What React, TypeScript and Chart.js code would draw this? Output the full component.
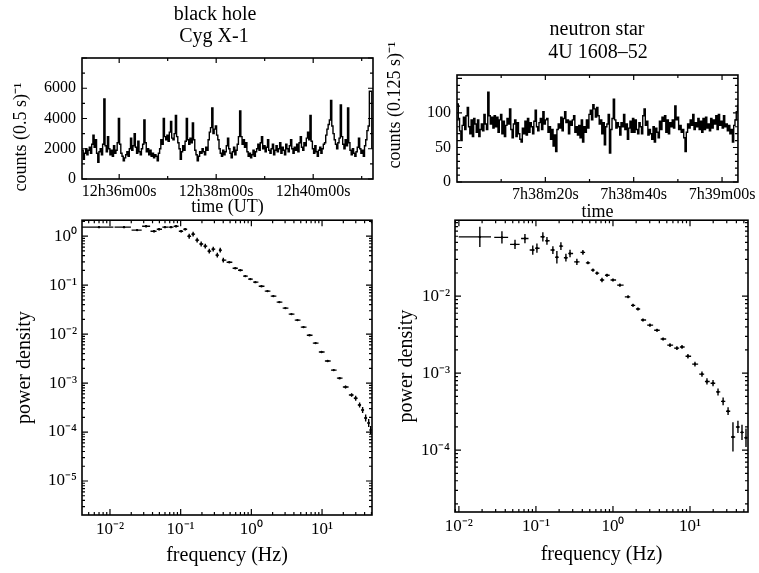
import React, { useEffect, useRef } from 'react';
import { Chart, registerables } from 'chart.js';

Chart.register(...registerables);

const SERIF = '"Liberation Serif", "Times New Roman", Times, serif';

// ---------------- Cyg X-1 light curve (counts per 0.5 s) ----------------
const cygStart = 2114; // seconds after 12h00m00s UT
const cygStep = 1.5;
const cygCounts = [
  1900, 1300, 1700, 2000, 1600, 1900, 2100, 1700, 2300, 2900,
  2100, 2600, 1700, 1100, 1800, 2000, 1600, 2300, 5300, 2200,
  1800, 2800, 2000, 1600, 1900, 1500, 2200, 1700, 1900, 2400,
  4000, 2300, 1700, 1500, 1200, 1400, 1600, 1800, 1500, 2000,
  2700, 1900, 2200, 3000, 2100, 1700, 2500, 1800, 1600, 2000,
  2300, 3900, 2400, 1800, 2000, 1600, 1900, 1500, 1700, 1400,
  1600, 1500, 1200, 1700, 2000, 2600, 2300, 4000, 2800, 2600,
  2900, 2500, 3100, 3800, 2700, 2600, 3000, 4200, 2800, 2400,
  2000, 1300, 1800, 2200, 1900, 2500, 4000, 2600, 2300, 2700,
  2400, 3700, 2600, 1900, 1600, 1200, 1500, 1800, 1700, 2000,
  1800, 1600, 2100, 1900, 2600, 3100, 3400, 4700, 3000, 3300,
  3500, 2900, 2600, 2000, 1700, 1500, 1900, 1600, 1800, 2200,
  2700, 2000, 1700, 1400, 1800, 2100, 1600, 1900, 2300, 2800,
  4500, 2800, 2300, 2600, 2100, 2400, 1800, 1500, 1700, 1400,
  1600, 1900, 1500, 1800, 2000, 2300, 1900, 2400, 2800, 2000,
  2200, 1800, 2100, 2600, 1900, 1700, 2000, 2300, 1600, 1900,
  2200, 1800, 2000, 2400, 1700, 2100, 1900, 1600, 2300, 2000,
  1800, 2200, 2600, 2000, 1700, 2100, 1900, 2300, 1800, 2400,
  2800, 2100, 1900, 2400, 2200, 2700, 3100, 2600, 4200, 2500,
  2000, 1700, 2200, 1800, 1500, 1900, 2100, 1700, 2000, 2300,
  2400, 2900, 3300, 3600, 3900, 5200, 3500, 3000, 2600, 2300,
  2000, 2400, 2700, 4900, 2800, 2300, 2000, 2600, 2200, 4700,
  2400, 1900, 1600, 2000, 1700, 1500, 1800, 2100, 2700, 2000,
  1700, 1900, 1500, 2200, 2600, 3200, 3500, 5800, 5800, 2000,
];
const cygTimeTicks = [2160, 2280, 2400];
const cygCountTicks = [0, 2000, 4000, 6000];

// ---------------- 4U 1608-52 light curve (counts per 0.125 s) ----------------
const nsStart = 2280; // seconds after 7h00m00s
const nsStep = 0.29;
const nsCounts = [
  113, 92, 74, 60, 82, 94, 76, 96, 108, 80,
  70, 90, 66, 92, 84, 72, 90, 66, 76, 84,
  74, 98, 84, 76, 130, 96, 84, 94, 78, 96,
  80, 94, 72, 90, 98, 70, 88, 66, 82, 92,
  84, 106, 76, 64, 84, 90, 66, 86, 70, 62,
  58, 78, 70, 88, 68, 92, 72, 86, 80, 70,
  88, 104, 80, 74, 86, 92, 76, 102, 84, 90,
  92, 72, 80, 62, 76, 52, 68, 44, 76, 84,
  78, 94, 74, 92, 102, 86, 90, 70, 88, 82,
  90, 96, 72, 80, 68, 82, 64, 90, 58, 80,
  72, 90, 78, 98, 104, 90, 112, 106, 94, 108,
  96, 84, 90, 70, 86, 54, 80, 84, 98, 42,
  76, 92, 120, 90, 78, 86, 80, 68, 86, 80,
  98, 76, 84, 62, 78, 88, 72, 92, 72, 90,
  76, 70, 86, 80, 70, 96, 106, 82, 88, 68,
  76, 70, 62, 80, 58, 78, 72, 64, 88, 76,
  94, 88, 96, 72, 90, 70, 86, 80, 90, 78,
  110, 90, 94, 76, 82, 72, 76, 64, 44, 72,
  84, 78, 90, 82, 98, 76, 86, 80, 92, 76,
  88, 72, 92, 76, 94, 78, 84, 74, 92, 78,
  90, 84, 96, 76, 98, 82, 88, 78, 96, 80,
  84, 74, 82, 70, 76, 58, 82, 90, 102, 112,
];
const nsTimeTicks = [2300, 2320, 2340];
const nsCountTicks = [0, 50, 100];

// ---------------- Power spectra ----------------
const bhFreq = [
  0.007, 0.0158, 0.0242, 0.0324, 0.042, 0.0495, 0.06, 0.073, 0.086, 0.1016,
  0.116, 0.132, 0.15, 0.171, 0.195, 0.223, 0.254, 0.289, 0.33, 0.363,
  0.401, 0.488, 0.593, 0.698, 0.822, 0.968, 1.14, 1.39, 1.69, 2.05,
  2.49, 3.03, 3.69, 4.49, 5.47, 6.65, 8.09, 9.84, 12.0, 14.6,
  17.7, 21.5, 26.2, 29.9, 34.0, 37.5, 41.4, 45.7, 48.7,
];
const bhPower = [
  1.53, 1.53, 1.33, 1.6, 1.26, 1.39, 1.53, 1.53, 1.6, 1.26,
  1.39, 1.0, 1.1, 0.83, 0.69, 0.625, 0.494, 0.543, 0.41, 0.518,
  0.324, 0.294, 0.222, 0.202, 0.153, 0.133, 0.115, 0.095, 0.0755, 0.0597,
  0.045, 0.034, 0.0256, 0.0193, 0.0139, 0.0095, 0.00655, 0.0043, 0.00282, 0.00184,
  0.00126, 0.00083, 0.00057, 0.00049, 0.000356, 0.000282, 0.000193, 0.000153, 0.00011,
];
const bhErr = [
  0.02, 0.02, 0.02, 0.02, 0.02, 0.02, 0.02, 0.02, 0.02, 0.02,
  0.02, 0.05, 0.05, 0.05, 0.05, 0.05, 0.05, 0.05, 0.05, 0.05,
  0.05, 0.015, 0.015, 0.015, 0.015, 0.015, 0.015, 0.015, 0.015, 0.015,
  0.015, 0.015, 0.015, 0.015, 0.015, 0.015, 0.015, 0.015, 0.015, 0.015,
  0.025, 0.03, 0.035, 0.05, 0.05, 0.06, 0.07, 0.08, 0.08,
];

const nsFreq = [
  0.0187, 0.0362, 0.0535, 0.072, 0.091, 0.103, 0.123, 0.139, 0.166, 0.187,
  0.211, 0.245, 0.277, 0.34, 0.407, 0.473, 0.55, 0.62, 0.72, 0.836,
  1.0, 1.23, 1.57, 1.82, 2.11, 2.45, 3.02, 3.73, 4.47, 5.5,
  6.76, 7.87, 9.4, 11.6, 14.3, 16.6, 19.9, 23.1, 26.9, 31.2,
  36.1, 41.9, 47.3, 53.3,
];
const nsPower = [
  0.0589, 0.058, 0.047, 0.056, 0.0397, 0.042, 0.059, 0.0524, 0.0397, 0.032,
  0.0447, 0.0316, 0.0358, 0.0279, 0.037, 0.0271, 0.0218, 0.0199, 0.0162, 0.0187,
  0.0162, 0.0139, 0.0098, 0.0076, 0.0068, 0.0049, 0.0042, 0.0036, 0.00277, 0.00231,
  0.00211, 0.00219, 0.00166, 0.00131, 0.00097, 0.00078, 0.00074, 0.00057, 0.00043, 0.00032,
  0.000148, 0.0002, 0.00017, 0.000145,
];
const nsErr = [
  0.13, 0.08, 0.06, 0.06, 0.06, 0.06, 0.06, 0.05, 0.05, 0.08,
  0.05, 0.05, 0.05, 0.04, 0.03, 0.02, 0.02, 0.02, 0.03, 0.02,
  0.02, 0.02, 0.02, 0.02, 0.02, 0.02, 0.02, 0.02, 0.02, 0.025,
  0.025, 0.025, 0.03, 0.03, 0.035, 0.04, 0.04, 0.045, 0.05, 0.05,
  0.19, 0.08, 0.1, 0.12,
];

const bhDecadesX = [0.01, 0.1, 1, 10];
const bhDecadesY = [1e-5, 1e-4, 1e-3, 1e-2, 1e-1, 1];
const nsDecadesX = [0.01, 0.1, 1, 10];
const nsDecadesY = [1e-4, 1e-3, 1e-2];

// ---------------- helpers ----------------
const SUP: Record<string, string> = {
  '0': '⁰', '1': '¹', '2': '²', '3': '³', '4': '⁴', '5': '⁵', '6': '⁶', '7': '⁷', '8': '⁸', '9': '⁹', '-': '⁻',
};
function logLabel(v: number): string {
  const e = Math.round(Math.log10(v));
  return '10' + String(e).split('').map((c) => SUP[c] || c).join('');
}
function pad2(n: number) {
  return n < 10 ? '0' + n : String(n);
}
function hms(sec: number, baseHour: number): string {
  const s = Math.round(sec);
  const h = baseHour + Math.floor(s / 3600);
  const m = Math.floor((s % 3600) / 60);
  return `${h}h${pad2(m)}m${pad2(s % 60)}s`;
}
function logTickSets(min: number, max: number) {
  const major: number[] = [];
  const minor: number[] = [];
  for (let e = Math.floor(Math.log10(min)); e <= Math.ceil(Math.log10(max)); e++) {
    for (let k = 1; k <= 9; k++) {
      const v = k * Math.pow(10, e);
      if (v < min || v > max) continue;
      (k === 1 ? major : minor).push(v);
    }
  }
  return { major, minor };
}

type FrameSpec = { xMajor: number[]; xMinor: number[]; yMajor: number[]; yMinor: number[]; major: number; minor: number };
function makeFrame(spec: FrameSpec) {
  return {
    id: 'frame',
    afterDraw(chart: any) {
      const { ctx, chartArea: a, scales } = chart;
      ctx.save();
      ctx.strokeStyle = '#000';
      ctx.lineWidth = 1.6;
      ctx.strokeRect(a.left, a.top, a.right - a.left, a.bottom - a.top);
      ctx.lineWidth = 1.2;
      const xs = (vals: number[], len: number) => {
        for (const v of vals) {
          const p = scales.x.getPixelForValue(v);
          if (p < a.left - 0.5 || p > a.right + 0.5) continue;
          ctx.beginPath();
          ctx.moveTo(p, a.bottom);
          ctx.lineTo(p, a.bottom - len);
          ctx.moveTo(p, a.top);
          ctx.lineTo(p, a.top + len);
          ctx.stroke();
        }
      };
      const ys = (vals: number[], len: number) => {
        for (const v of vals) {
          const p = scales.y.getPixelForValue(v);
          if (p < a.top - 0.5 || p > a.bottom + 0.5) continue;
          ctx.beginPath();
          ctx.moveTo(a.left, p);
          ctx.lineTo(a.left + len, p);
          ctx.moveTo(a.right, p);
          ctx.lineTo(a.right - len, p);
          ctx.stroke();
        }
      };
      xs(spec.xMajor, spec.major);
      xs(spec.xMinor, spec.minor);
      ys(spec.yMajor, spec.major);
      ys(spec.yMinor, spec.minor);
      ctx.restore();
    },
  };
}

type TextItem = { text: string; x: number; y: number; size: number; rotate?: number };
function makeText(items: TextItem[]) {
  return {
    id: 'panelText',
    afterDraw(chart: any) {
      const ctx = chart.ctx;
      for (const it of items) {
        ctx.save();
        ctx.font = `${it.size}px ${SERIF}`;
        ctx.fillStyle = '#000';
        ctx.textAlign = 'center';
        ctx.textBaseline = 'middle';
        ctx.translate(it.x, it.y);
        if (it.rotate) ctx.rotate(it.rotate);
        ctx.fillText(it.text, 0, 0);
        ctx.restore();
      }
    },
  };
}

function errorBarSets(freq: number[], power: number[], errDex: number[], shrink: number) {
  const h: any[] = [];
  const v: any[] = [];
  const n = freq.length;
  for (let i = 0; i < n; i++) {
    const f = freq[i];
    const p = power[i];
    const nxt = i < n - 1 ? (f + freq[i + 1]) / 2 : f + (f - (freq[i - 1] + f) / 2);
    const prv = i > 0 ? (freq[i - 1] + f) / 2 : f - (nxt - f);
    const sLo = i === 0 ? 1 : shrink;
    h.push({ x: f - (f - prv) * sLo, y: p }, { x: f + (nxt - f) * shrink, y: p }, { x: f, y: null });
    const k = Math.pow(10, errDex[i]);
    v.push({ x: f, y: p / k }, { x: f, y: p * k }, { x: f, y: null });
  }
  return { h, v };
}

const noGrid = { display: false, drawTicks: false };
const font = (size: number) => ({ family: SERIF, size, lineHeight: 1.2 });

// ---------------- chart configs ----------------
function lightCurveConfig(o: {
  start: number; step: number; counts: number[]; xMin: number; xMax: number; xTicks: number[]; hour: number;
  yMax: number; yTicks: number[]; yWidth: number; xHeight: number; padTop: number; padRight: number;
  xTitle: string; xTitlePad: number; frame: FrameSpec; texts: TextItem[];
}) {
  return {
    type: 'line',
    data: {
      datasets: [
        {
          data: o.counts.map((c, i) => ({ x: o.start + i * o.step, y: c })),
          stepped: true,
          borderColor: '#000',
          borderWidth: 1.4,
          pointRadius: 0,
          fill: false,
        },
      ],
    },
    options: {
      animation: false,
      responsive: false,
      devicePixelRatio: 1,
      layout: { padding: { top: o.padTop, right: o.padRight, left: 0, bottom: 0 } },
      plugins: { legend: { display: false }, tooltip: { enabled: false } },
      scales: {
        x: {
          type: 'linear',
          min: o.xMin,
          max: o.xMax,
          afterFit: (s: any) => { s.height = o.xHeight; },
          afterBuildTicks: (s: any) => { s.ticks = o.xTicks.map((v) => ({ value: v })); },
          ticks: { callback: (v: any) => hms(Number(v), o.hour), font: font(16), color: '#000', padding: 3, autoSkip: false, maxRotation: 0 },
          grid: noGrid,
          border: { display: false },
          title: { display: true, text: o.xTitle, font: font(18), color: '#000', padding: { top: 0, bottom: o.xTitlePad } },
        },
        y: {
          type: 'linear',
          min: 0,
          max: o.yMax,
          afterFit: (s: any) => { s.width = o.yWidth; },
          afterBuildTicks: (s: any) => { s.ticks = o.yTicks.map((v) => ({ value: v })); },
          ticks: { callback: (v: any) => String(v), font: font(16), color: '#000', padding: 6, autoSkip: false },
          grid: noGrid,
          border: { display: false },
        },
      },
    },
    plugins: [makeFrame(o.frame), makeText(o.texts)],
  };
}

function psdConfig(o: {
  freq: number[]; power: number[]; err: number[]; shrink: number;
  xMin: number; xMax: number; yMin: number; yMax: number; xDec: number[]; yDec: number[];
  yWidth: number; xHeight: number; padTop: number; padRight: number; xTitlePad: number; yTitlePad: number;
}) {
  const bars = errorBarSets(o.freq, o.power, o.err, o.shrink);
  const xs = logTickSets(o.xMin, o.xMax);
  const ys = logTickSets(o.yMin, o.yMax);
  const barStyle = { showLine: true, pointRadius: 0, borderColor: '#000', borderWidth: 1.4, spanGaps: false };
  return {
    type: 'scatter',
    data: {
      datasets: [
        { data: bars.h, ...barStyle },
        { data: bars.v, ...barStyle },
        {
          data: o.freq.map((f, i) => ({ x: f, y: o.power[i] })),
          showLine: false,
          pointRadius: 1.2,
          pointBackgroundColor: '#000',
          pointBorderWidth: 0,
        },
      ],
    },
    options: {
      animation: false,
      responsive: false,
      devicePixelRatio: 1,
      layout: { padding: { top: o.padTop, right: o.padRight, left: 0, bottom: 0 } },
      plugins: { legend: { display: false }, tooltip: { enabled: false } },
      scales: {
        x: {
          type: 'logarithmic',
          min: o.xMin,
          max: o.xMax,
          afterFit: (s: any) => { s.height = o.xHeight; },
          afterBuildTicks: (s: any) => { s.ticks = o.xDec.map((v) => ({ value: v })); },
          ticks: { callback: (v: any) => logLabel(Number(v)), font: font(17), color: '#000', padding: 4, autoSkip: false, maxRotation: 0 },
          grid: noGrid,
          border: { display: false },
          title: { display: true, text: 'frequency (Hz)', font: font(20), color: '#000', padding: { top: 0, bottom: o.xTitlePad } },
        },
        y: {
          type: 'logarithmic',
          min: o.yMin,
          max: o.yMax,
          afterFit: (s: any) => { s.width = o.yWidth; },
          afterBuildTicks: (s: any) => { s.ticks = o.yDec.map((v) => ({ value: v })); },
          ticks: { callback: (v: any) => logLabel(Number(v)), font: font(17), color: '#000', padding: 5, autoSkip: false },
          grid: noGrid,
          border: { display: false },
          title: { display: true, text: 'power density', font: font(20), color: '#000', padding: { top: o.yTitlePad, bottom: 0 } },
        },
      },
    },
    plugins: [makeFrame({ xMajor: xs.major, xMinor: xs.minor, yMajor: ys.major, yMinor: ys.minor, major: 6, minor: 3 })],
  };
}

const makeCygLC = () =>
  lightCurveConfig({
    start: cygStart, step: cygStep, counts: cygCounts, xMin: 2114, xMax: 2474, xTicks: cygTimeTicks, hour: 12,
    yMax: 8000, yTicks: cygCountTicks, yWidth: 82, xHeight: 41, padTop: 58, padRight: 7,
    xTitle: 'time (UT)', xTitlePad: 2,
    frame: { xMajor: cygTimeTicks, xMinor: [2220, 2340, 2460], yMajor: [0, 2000, 4000, 6000, 8000], yMinor: [1000, 3000, 5000, 7000], major: 5, minor: 3 },
    texts: [
      { text: 'black hole', x: 215, y: 15, size: 20 },
      { text: 'Cyg X-1', x: 214, y: 37, size: 20 },
      { text: 'counts (0.5 s)⁻¹', x: 21, y: 137, size: 18, rotate: -Math.PI / 2 },
    ],
  });

const makeNsLC = () =>
  lightCurveConfig({
    start: nsStart, step: nsStep, counts: nsCounts, xMin: 2280, xMax: 2343.6, xTicks: nsTimeTicks, hour: 7,
    yMax: 155, yTicks: nsCountTicks, yWidth: 77, xHeight: 43, padTop: 75, padRight: 11,
    xTitle: 'time', xTitlePad: 2,
    frame: { xMajor: nsTimeTicks, xMinor: [2290, 2310, 2330], yMajor: [0, 50, 100, 150], yMinor: [10, 20, 30, 40, 60, 70, 80, 90, 110, 120, 130, 140], major: 5, minor: 3 },
    texts: [
      { text: 'neutron star', x: 217, y: 30, size: 20 },
      { text: '4U 1608–52', x: 218, y: 53, size: 20 },
      { text: 'counts (0.125 s)⁻¹', x: 15, y: 105, size: 18, rotate: -Math.PI / 2 },
    ],
  });

const makeBhPSD = () =>
  psdConfig({
    freq: bhFreq, power: bhPower, err: bhErr, shrink: 0.95,
    xMin: 0.00402, xMax: 50.9, yMin: 2.02e-6, yMax: 2.12, xDec: bhDecadesX, yDec: bhDecadesY,
    yWidth: 82, xHeight: 58, padTop: 15, padRight: 8, xTitlePad: 5, yTitlePad: 13,
  });

const makeNsPSD = () =>
  psdConfig({
    freq: nsFreq, power: nsPower, err: nsErr, shrink: 0.85,
    xMin: 0.0089, xMax: 56.6, yMin: 1.57e-5, yMax: 0.097, xDec: nsDecadesX, yDec: nsDecadesY,
    yWidth: 75, xHeight: 61, padTop: 15, padRight: 11, xTitlePad: 6, yTitlePad: 15,
  });

type PanelProps = { left: number; top: number; width: number; height: number; make: () => any };
function Panel({ left, top, width, height, make }: PanelProps) {
  const ref = useRef<HTMLCanvasElement | null>(null);
  useEffect(() => {
    if (!ref.current) return;
    const chart = new Chart(ref.current, make());
    return () => chart.destroy();
  }, [make]);
  return (
    <canvas
      ref={ref}
      width={width}
      height={height}
      style={{ position: 'absolute', left, top, width, height, display: 'block' }}
    />
  );
}

export default function App() {
  return (
    <div style={{ position: 'absolute', left: 0, top: 0, width: 759, height: 573, background: '#fff', overflow: 'hidden' }}>
      <Panel left={0} top={0} width={380} height={220} make={makeCygLC} />
      <Panel left={380} top={0} width={379} height={225} make={makeNsLC} />
      <Panel left={0} top={205} width={380} height={368} make={makeBhPSD} />
      <Panel left={380} top={205} width={379} height={368} make={makeNsPSD} />
    </div>
  );
}
